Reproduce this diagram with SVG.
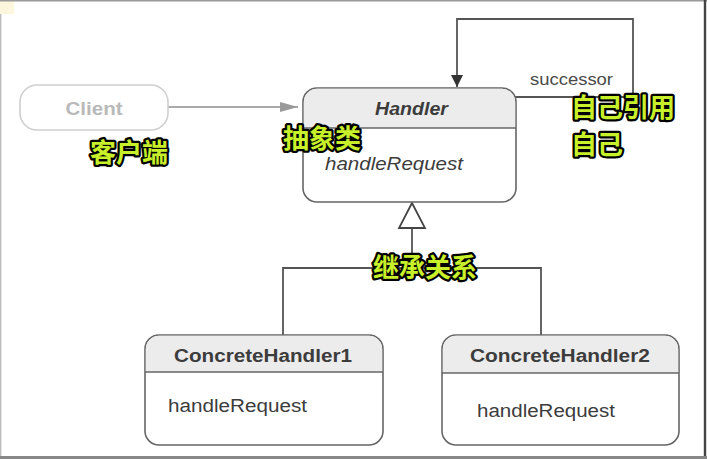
<svg xmlns="http://www.w3.org/2000/svg" width="707" height="459" viewBox="0 0 707 459">
<defs>
<style>
.box{fill:#fff;stroke:#666;stroke-width:1.6}
.hdr{fill:#ececec}
.div{stroke:#666;stroke-width:1.6}
.en{font-family:"Liberation Sans",Arial,sans-serif;fill:#3c3c3c}
.title{font-size:18px;font-weight:bold}
.op{font-size:18px}
.cn{font-family:"Noto Sans CJK SC",sans-serif;font-size:26px;font-weight:bold;fill:#c8f02a;stroke:#000;stroke-width:4.5;paint-order:stroke;stroke-linejoin:round}
.ln{fill:none;stroke:#555;stroke-width:1.8}
</style>
<marker id="solid" markerWidth="12" markerHeight="12" refX="12" refY="6" orient="auto" markerUnits="userSpaceOnUse" viewBox="0 0 12 12">
<path d="M0,0 L12,6 L0,12 Z" fill="#333"/>
</marker>
<marker id="grey" markerWidth="18" markerHeight="12" refX="18" refY="6" orient="auto" markerUnits="userSpaceOnUse" viewBox="0 0 18 12">
<path d="M0,1 L18,6 L0,11 Z" fill="#999"/>
</marker>
</defs>
<rect width="707" height="459" fill="#fff"/>
<rect x="0" y="0" width="14" height="14" fill="#fbf6dc"/>
<line x1="0" y1="0.7" x2="707" y2="0.7" stroke="#9a9a9a" stroke-width="1.4"/>
<line x1="0.7" y1="14" x2="0.7" y2="459" stroke="#bdbdbd" stroke-width="1.4"/>
<line x1="705" y1="0" x2="705" y2="459" stroke="#444" stroke-width="2.4"/>
<line x1="0" y1="457.5" x2="707" y2="457.5" stroke="#888" stroke-width="3"/>

<g id="connectors">
<line x1="168" y1="107" x2="298" y2="107" fill="none" stroke="#aaa" stroke-width="1.8" marker-end="url(#grey)"/>
<path class="ln" d="M515,97 H633 V19 H457 V87" marker-end="url(#solid)"/>
<text class="en" x="530" y="85" font-size="17" textLength="83" lengthAdjust="spacingAndGlyphs" style="fill:#4a4a4a">successor</text>
<path class="ln" d="M283,335 V268 H541 V335 M412,268 V228"/>
<path d="M412,203 L399,228 L425,228 Z" fill="#fff" stroke="#444" stroke-width="1.8"/>
</g>

<g id="client">
<rect x="20" y="85" width="148" height="45" rx="17" fill="#fff" stroke="#cfcfcf" stroke-width="1.6"/>
<text x="94" y="114.5" text-anchor="middle" font-family="'Liberation Sans',Arial,sans-serif" font-size="19" font-weight="bold" fill="#b9b9b9" textLength="57" lengthAdjust="spacingAndGlyphs">Client</text>
</g>

<g id="handler">
<rect class="box" x="303" y="88" width="213" height="114" rx="14"/>
<path class="hdr" d="M317,88.8 H502 A13.2,13.2 0 0 1 515.2,102 V128 H303.8 V102 A13.2,13.2 0 0 1 317,88.8 Z"/>
<line class="div" x1="303" y1="128" x2="516" y2="128"/>
<text class="en title" x="411.5" y="115" text-anchor="middle" font-style="italic" textLength="73" lengthAdjust="spacingAndGlyphs">Handler</text>
<text class="en op" x="325" y="170" font-style="italic" textLength="138" lengthAdjust="spacingAndGlyphs">handleRequest</text>
</g>

<g id="concrete1">
<rect class="box" x="145" y="335" width="238" height="110" rx="14"/>
<path class="hdr" d="M159,335.8 H369 A13.2,13.2 0 0 1 382.2,349 V372 H145.8 V349 A13.2,13.2 0 0 1 159,335.8 Z"/>
<line class="div" x1="145" y1="372" x2="383" y2="372"/>
<text class="en title" x="263" y="362" text-anchor="middle" textLength="178" lengthAdjust="spacingAndGlyphs">ConcreteHandler1</text>
<text class="en op" x="168" y="412" textLength="139" lengthAdjust="spacingAndGlyphs">handleRequest</text>
</g>

<g id="concrete2">
<rect class="box" x="442" y="335" width="237" height="110" rx="14"/>
<path class="hdr" d="M456,335.8 H665 A13.2,13.2 0 0 1 678.2,349 V373 H442.8 V349 A13.2,13.2 0 0 1 456,335.8 Z"/>
<line class="div" x1="442" y1="373" x2="679" y2="373"/>
<text class="en title" x="560" y="362" text-anchor="middle" textLength="180" lengthAdjust="spacingAndGlyphs">ConcreteHandler2</text>
<text class="en op" x="477" y="417" textLength="138" lengthAdjust="spacingAndGlyphs">handleRequest</text>
</g>

<g id="labels">
<text class="cn" x="90" y="162">客户端</text>
<text class="cn" x="283" y="148">抽象类</text>
<text class="cn" x="571" y="117">自己引用</text>
<text class="cn" x="571" y="154">自己</text>
<text class="cn" x="373" y="277">继承关系</text>
</g>
</svg>
